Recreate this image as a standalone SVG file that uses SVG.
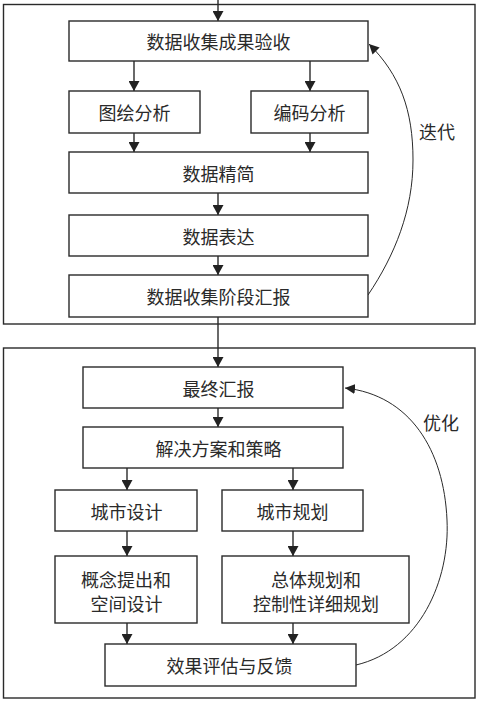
<svg xmlns="http://www.w3.org/2000/svg" width="479" height="702" viewBox="0 0 479 702">
<style>
.frame{fill:none;stroke:#2a2a2a;stroke-width:1.4}
.box{fill:#fff;stroke:#2a2a2a;stroke-width:1.4}
.t{font-family:"Noto Sans CJK SC","Noto Sans",sans-serif;font-size:18px;fill:#2a2a2a;text-anchor:middle;dominant-baseline:central}
.ln{fill:none;stroke:#2a2a2a;stroke-width:1.4}
.cv{fill:none;stroke:#2a2a2a;stroke-width:1}
</style>
<defs>
<marker id="ah" markerUnits="userSpaceOnUse" markerWidth="11" markerHeight="11" refX="10" refY="5.5" orient="auto"><path d="M0,0 L10,5.5 L0,11 z" fill="#222"/></marker>
<marker id="ah2" markerUnits="userSpaceOnUse" markerWidth="10" markerHeight="10" refX="10" refY="5" orient="auto"><path d="M0,0 L10,5 L0,10 z" fill="#222"/></marker>
</defs>
<rect class="frame" x="3.5" y="4.5" width="471.5" height="319.5"/>
<rect class="frame" x="3.5" y="348" width="471.5" height="350"/>
<g id="connectors">
<line class="ln" x1="218" y1="0" x2="218" y2="21" marker-end="url(#ah)"/>
<line class="ln" x1="134" y1="61" x2="134" y2="91" marker-end="url(#ah)"/>
<line class="ln" x1="310" y1="61" x2="310" y2="91" marker-end="url(#ah)"/>
<line class="ln" x1="134" y1="133" x2="134" y2="152" marker-end="url(#ah)"/>
<line class="ln" x1="310" y1="133" x2="310" y2="152" marker-end="url(#ah)"/>
<line class="ln" x1="218" y1="193" x2="218" y2="215" marker-end="url(#ah)"/>
<line class="ln" x1="218" y1="256" x2="218" y2="275" marker-end="url(#ah)"/>
<line class="ln" x1="218" y1="317" x2="218" y2="367" marker-end="url(#ah)"/>
<line class="ln" x1="218" y1="408" x2="218" y2="427" marker-end="url(#ah)"/>
<line class="ln" x1="127" y1="468" x2="127" y2="490" marker-end="url(#ah)"/>
<line class="ln" x1="293" y1="468" x2="293" y2="490" marker-end="url(#ah)"/>
<line class="ln" x1="127" y1="531" x2="127" y2="556" marker-end="url(#ah)"/>
<line class="ln" x1="293" y1="531" x2="293" y2="556" marker-end="url(#ah)"/>
<line class="ln" x1="127" y1="623" x2="127" y2="644" marker-end="url(#ah)"/>
<line class="ln" x1="293" y1="623" x2="293" y2="644" marker-end="url(#ah)"/>
<path class="cv" d="M368,295 C395,255 413,210 413,160 C413,110 400,75 369,44" marker-end="url(#ah2)"/>
<path class="cv" d="M356,665 C420,650 450,580 447,520 C444,450 410,395 345,388" marker-end="url(#ah2)"/>
<text class="t" x="437" y="131">迭代</text>
<text class="t" x="441" y="422">优化</text>
</g>
<g id="n1"><rect class="box" x="69" y="21" width="299" height="40"/><text class="t" x="218.5" y="41">数据收集成果验收</text></g>
<g id="n2"><rect class="box" x="69" y="91" width="131" height="42"/><text class="t" x="134.5" y="112">图绘分析</text></g>
<g id="n3"><rect class="box" x="251" y="91" width="117" height="42"/><text class="t" x="309.5" y="112">编码分析</text></g>
<g id="n4"><rect class="box" x="69" y="152" width="299" height="41"/><text class="t" x="218.5" y="172.5">数据精简</text></g>
<g id="n5"><rect class="box" x="69" y="215" width="299" height="41"/><text class="t" x="218.5" y="235.5">数据表达</text></g>
<g id="n6"><rect class="box" x="69" y="275" width="299" height="42"/><text class="t" x="218.5" y="296">数据收集阶段汇报</text></g>
<g id="n7"><rect class="box" x="83" y="367" width="260" height="41"/><text class="t" x="218.5" y="387.5">最终汇报</text></g>
<g id="n8"><rect class="box" x="83" y="427" width="260" height="41"/><text class="t" x="218.5" y="447.5">解决方案和策略</text></g>
<g id="n9"><rect class="box" x="55" y="490" width="142" height="41"/><text class="t" x="126.5" y="510.5">城市设计</text></g>
<g id="n10"><rect class="box" x="222" y="490" width="141" height="41"/><text class="t" x="292.5" y="510.5">城市规划</text></g>
<g id="n11"><rect class="box" x="55" y="556" width="142" height="67"/><text class="t" x="126" y="579">概念提出和</text><text class="t" x="126.5" y="603">空间设计</text></g>
<g id="n12"><rect class="box" x="222" y="556" width="187" height="67"/><text class="t" x="316" y="579">总体规划和</text><text class="t" x="316" y="603">控制性详细规划</text></g>
<g id="n13"><rect class="box" x="105" y="644" width="251" height="42"/><text class="t" x="229.5" y="665">效果评估与反馈</text></g>
</svg>
